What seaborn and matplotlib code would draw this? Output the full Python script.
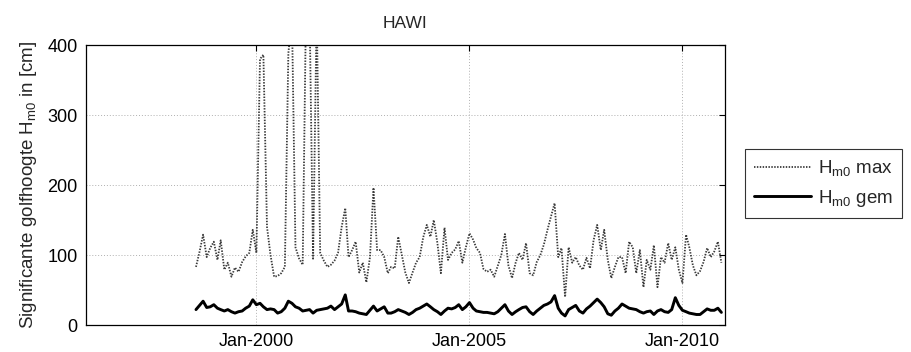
import matplotlib
matplotlib.use("Agg")
import matplotlib.pyplot as plt
import matplotlib.dates as mdates
import numpy as np
import pandas as pd
import seaborn as sns

# ---- data (monthly, starting Aug 1998) ----
start_month = "1998-08-01"
hm0_max = [83, 105, 129, 97, 110, 119, 93, 121, 79, 89, 69, 82, 76, 90, 98, 103, 136, 103,
           380, 386, 140, 100, 69, 70, 74, 83, 388, 440, 111, 95, 86, 450, 450, 93, 450, 103,
           92, 83, 86, 92, 103, 140, 167, 97, 107, 119, 75, 89, 61, 97, 196, 107, 107, 97,
           74, 83, 81, 126, 100, 75, 60, 75, 89, 97, 125, 143, 126, 150, 117, 74, 139, 93,
           103, 108, 120, 89, 111, 131, 122, 110, 103, 80, 76, 79, 69, 85, 100, 130, 85, 67,
           89, 103, 93, 117, 74, 71, 90, 100, 115, 136, 155, 174, 97, 110, 40, 111, 89, 97,
           85, 79, 96, 81, 121, 143, 107, 136, 93, 67, 83, 97, 97, 74, 119, 111, 74, 107,
           54, 93, 79, 114, 54, 97, 89, 117, 93, 111, 79, 60, 129, 111, 85, 71, 77, 90,
           110, 97, 105, 119, 89]
hm0_gem = [22, 28, 34, 25, 26, 29, 24, 22, 20, 22, 19, 17, 19, 20, 24, 27, 36, 29,
           31, 26, 22, 23, 22, 17, 19, 24, 34, 31, 26, 24, 20, 21, 22, 17, 21, 22,
           23, 24, 27, 22, 26, 30, 43, 20, 20, 19, 17, 16, 15, 21, 27, 20, 23, 26,
           17, 17, 19, 22, 20, 18, 15, 18, 22, 24, 27, 30, 26, 22, 19, 15, 20, 24,
           23, 25, 29, 22, 26, 32, 24, 20, 19, 18, 18, 17, 16, 19, 24, 29, 20, 15,
           19, 22, 25, 26, 19, 15, 20, 24, 28, 30, 33, 42, 24, 17, 13, 22, 25, 28,
           20, 17, 23, 27, 32, 37, 32, 26, 16, 14, 20, 24, 30, 27, 24, 23, 22, 19,
           17, 19, 20, 15, 20, 22, 19, 18, 22, 39, 28, 21, 19, 17, 16, 15, 15, 19,
           23, 21, 21, 24, 18]
xtick_dates = ["2000-01-01", "2005-01-01", "2010-01-01"]
xtick_labels = ["Jan-2000", "Jan-2005", "Jan-2010"]
yticks = [0, 100, 200, 300, 400]
x_range = ["1996-01-01", "2011-01-01"]
title = "HAWI"
ylabel = r"Significante golfhoogte H$_{\mathrm{m0}}$ in [cm]"
labels = [r"H$_{\mathrm{m0}}$ max", r"H$_{\mathrm{m0}}$ gem"]

dates = pd.date_range(start_month, periods=len(hm0_max), freq="MS")
df = pd.DataFrame({"date": dates, "max": hm0_max, "gem": hm0_gem})

sns.set_theme(style="white")
plt.rcParams["font.family"] = ["Liberation Sans", "DejaVu Sans"]
plt.rcParams["mathtext.fontset"] = "custom"
plt.rcParams["mathtext.rm"] = "Liberation Sans"
plt.rcParams["mathtext.it"] = "Liberation Sans"
plt.rcParams["mathtext.bf"] = "Liberation Sans"

fig = plt.figure(figsize=(9.12, 3.52), dpi=100)
ax = fig.add_axes([86 / 912, 1 - 325 / 352, (725 - 86) / 912, (325 - 45) / 352])

sns.lineplot(data=df, x="date", y="max", ax=ax, color="#3a3a3a", linewidth=1.3,
             linestyle=(0, (0.8, 0.8)), label=labels[0], legend=False)
sns.lineplot(data=df, x="date", y="gem", ax=ax, color="black", linewidth=2.1,
             label=labels[1], legend=False)

ax.set_xlim(pd.Timestamp(x_range[0]), pd.Timestamp(x_range[1]))
ax.set_ylim(0, 400)
ax.set_yticks(yticks)
ax.set_xticks([mdates.date2num(pd.Timestamp(d)) for d in xtick_dates])
ax.set_xticklabels(xtick_labels)
ax.grid(True, color="#b0b0b0", linestyle=(0, (1, 2)), linewidth=0.7)
for s in ax.spines.values():
    s.set_color("black")
    s.set_linewidth(0.9)
    s.set_visible(True)
ax.tick_params(direction="in", length=4, width=0.8, top=True, right=True,
               labelsize=13, colors="black", pad=6)
ax.set_xlabel("")
ax.set_ylabel(ylabel, fontsize=13.5, labelpad=6)
ax.set_title(title, fontsize=12.5, pad=12)

handles, lbls = ax.get_legend_handles_labels()
leg = fig.legend(handles, lbls, loc="upper left", bbox_to_anchor=(745 / 912, 1 - 149 / 352),
                 frameon=True, fancybox=False, edgecolor="black", fontsize=13.5,
                 handlelength=3.0, handletextpad=0.4, borderpad=0.5, labelspacing=0.5,
                 borderaxespad=0)
leg.get_frame().set_linewidth(0.8)

fig.savefig("out.png", dpi=100)
